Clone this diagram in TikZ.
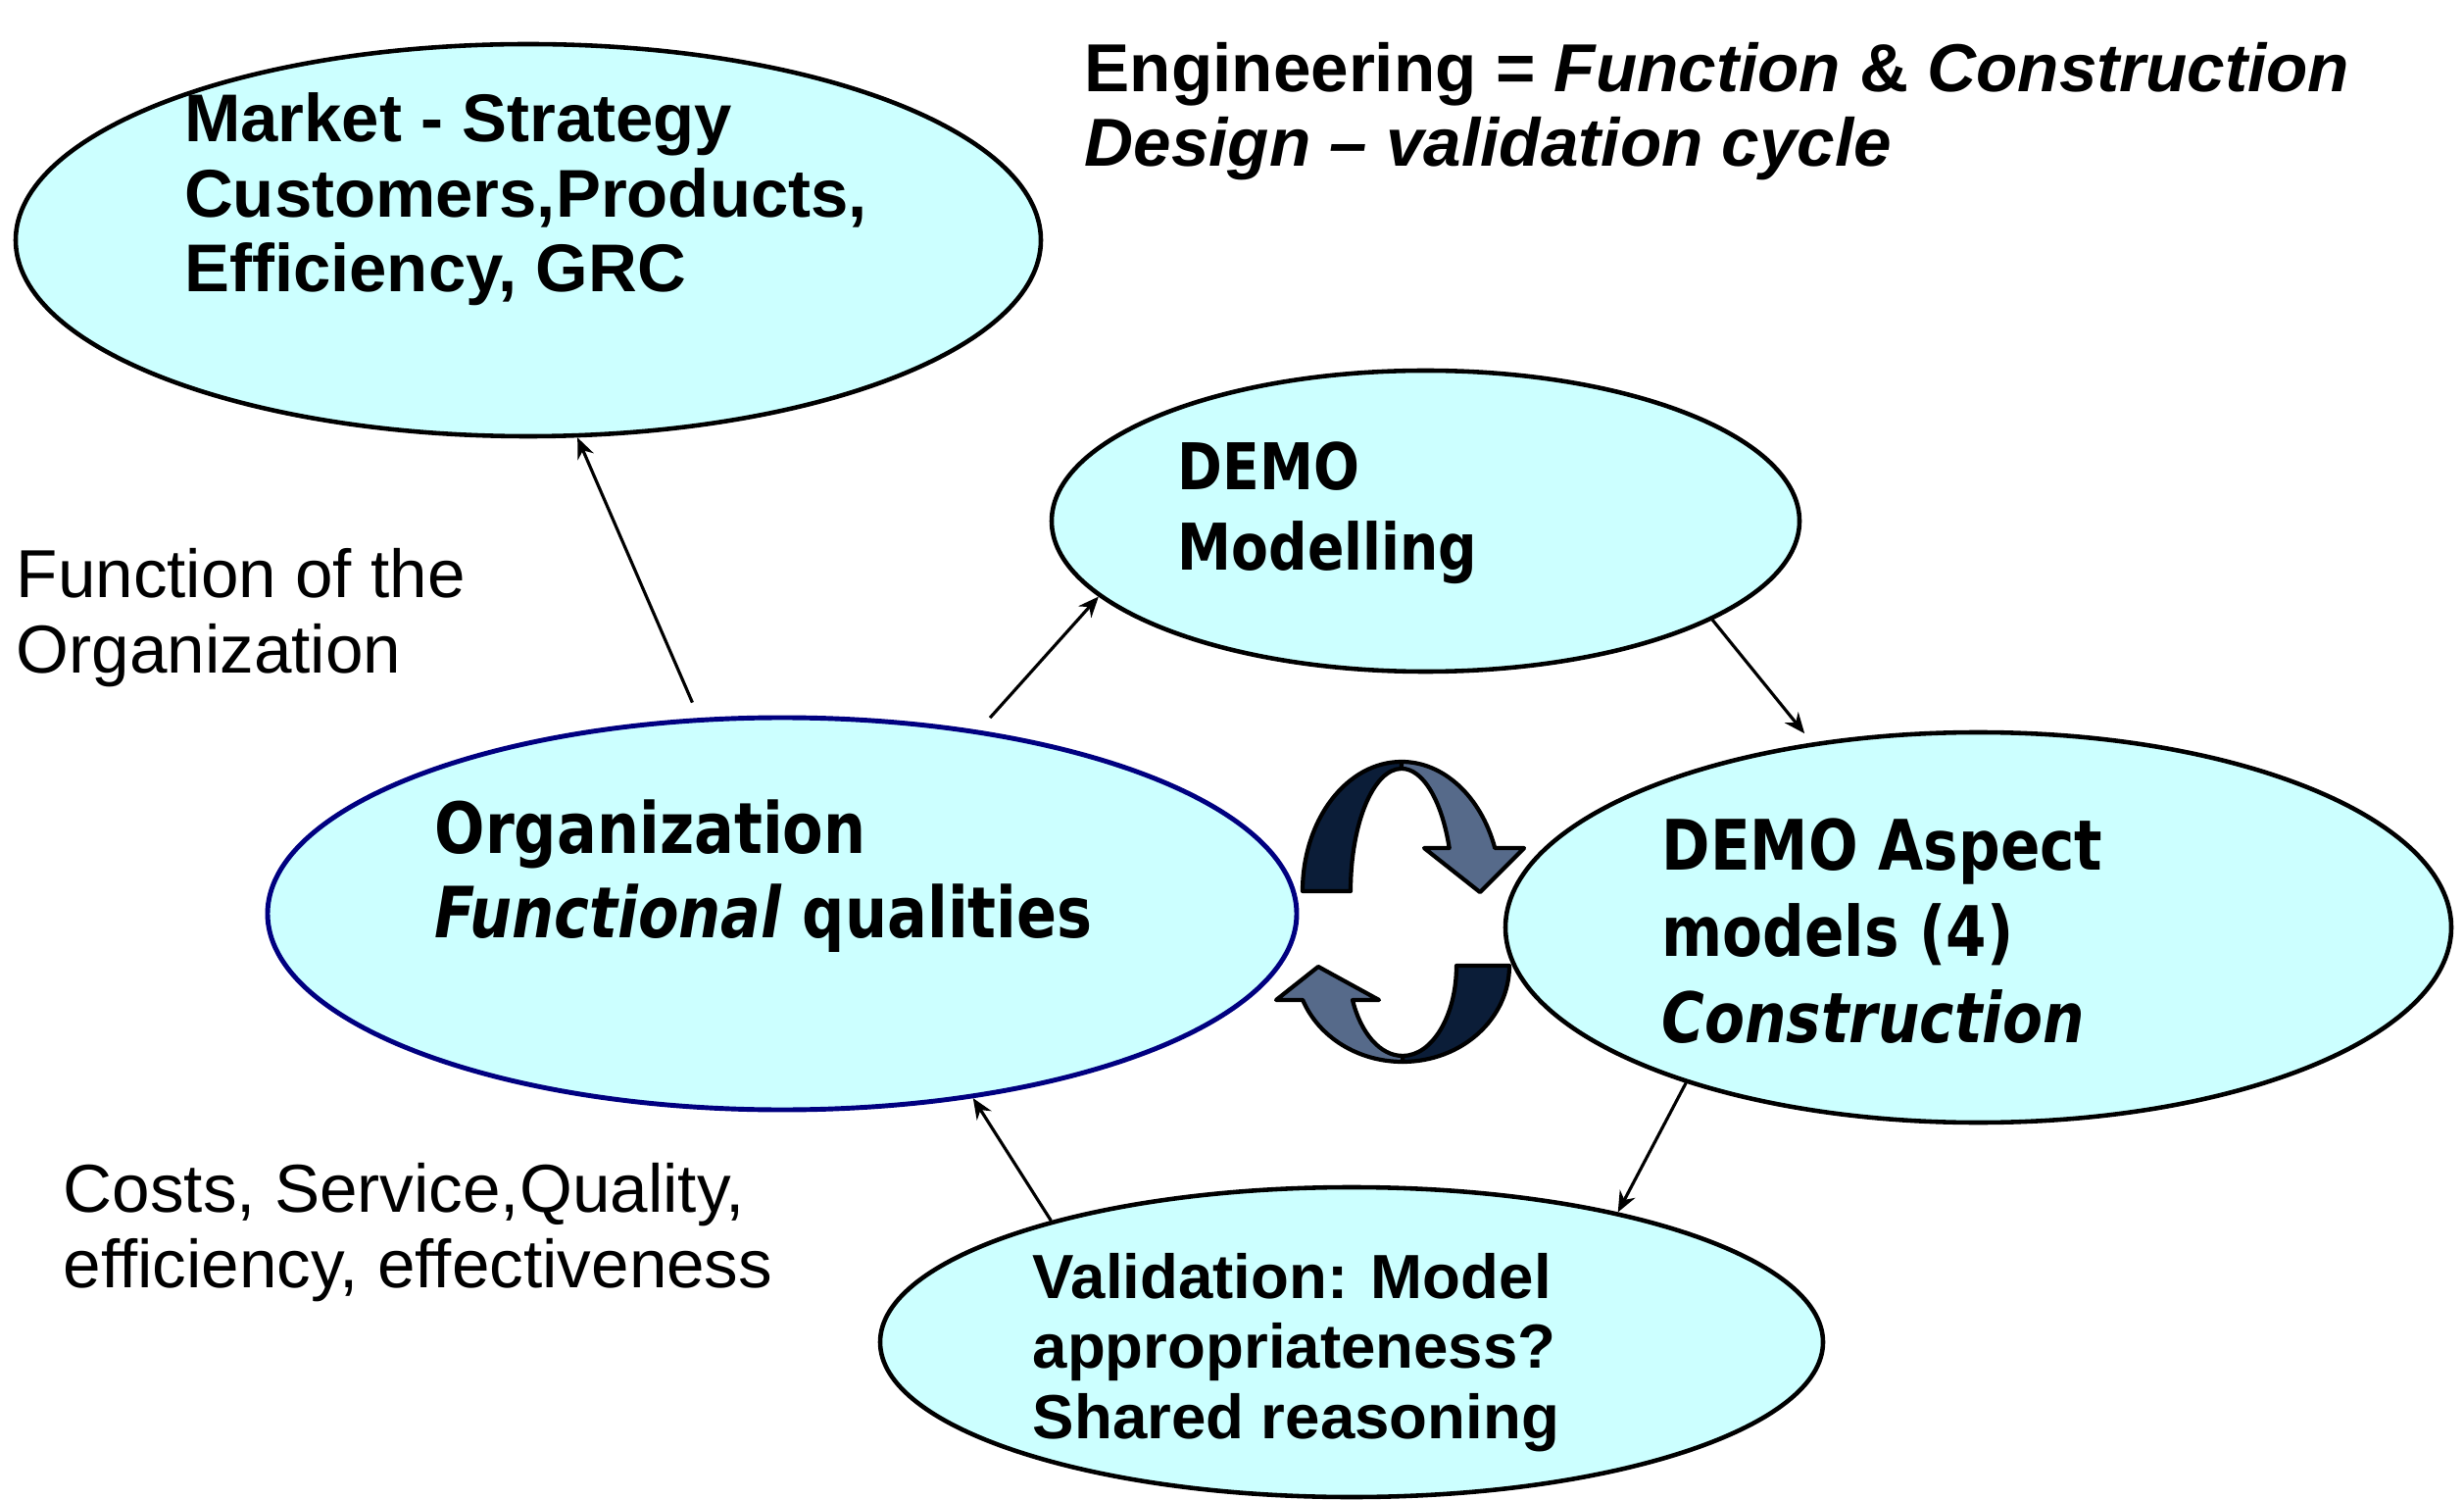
\documentclass[tikz,border=0pt]{standalone}
\usepackage{fontspec}
\setmainfont{Liberation Sans}
\newfontfamily\demofont[FakeStretch=0.84]{DejaVu Sans}
\usetikzlibrary{shapes.geometric,arrows.meta}
\definecolor{cyan3}{HTML}{CCFFFF}
\definecolor{navy2}{HTML}{000080}
\definecolor{slate1}{HTML}{0B1D38}
\definecolor{slate2}{HTML}{566A8A}

\begin{document}
\begin{tikzpicture}[
  bubble/.style={ellipse, draw, line width=1.3pt, fill=cyan3, inner sep=0pt},
  txt/.style={anchor=base west, align=left, inner sep=0pt},
  conn/.style={-{Stealth[length=6pt,width=5pt]}, line width=0.9pt},
  band/.style={draw=black, line width=1.2pt, line join=round}]
\useasboundingbox (0,0) rectangle (25.14,15.29);

\node[bubble, minimum width=10.46cm, minimum height=4cm] (market) at (5.39,12.84) {};
\node[bubble, minimum width=7.63cm, minimum height=3.07cm] (model) at (14.545,9.975) {};
\node[bubble, draw=navy2, line width=1.4pt, minimum width=10.5cm, minimum height=4cm] (org) at (7.98,5.97) {};
\node[bubble, minimum width=9.65cm, minimum height=3.98cm] (aspect) at (20.185,5.83) {};
\node[bubble, minimum width=9.62cm, minimum height=3.16cm] (valid) at (13.79,1.60) {};

\node[txt, font={\fontsize{19.6}{21.9}\selectfont\bfseries}] (marketText) at (1.875,12.31)
  {Market - Strategy\\Customers,Products,\\Efficiency, GRC};
\node[txt, font={\fontsize{19.7}{21.9}\selectfont\bfseries}] (engText) at (11.06,13.59)
  {Engineering = \textit{Function} \& \textit{Construction}\\\textit{Design – validation cycle}};
\node[txt, font={\fontsize{19.7}{21.9}\selectfont}] (funcText) at (0.16,8.43)
  {Function of the\\Organization};
\node[txt, font={\fontsize{19.7}{21.9}\selectfont}] (costText) at (0.64,2.16)
  {Costs, Service,Quality,\\efficiency, effectiveness};
\node[txt, font={\demofont\bfseries\fontsize{18.7}{23.6}\selectfont}] (modelText) at (12.01,9.47)
  {DEMO\\Modelling};
\node[txt, font={\demofont\bfseries\fontsize{20.5}{24.5}\selectfont}] (orgText) at (4.43,5.72)
  {Organization\\\textit{Functional} qualities};
\node[txt, font={\demofont\bfseries\fontsize{20.2}{25}\selectfont}] (aspectText) at (16.95,4.66)
  {DEMO Aspect\\models (4)\\\textit{Construction}};
\node[txt, font={\fontsize{18.1}{20.3}\selectfont\bfseries}] (validText) at (10.53,0.62)
  {Validation: Model\\appropriateness?\\Shared reasoning};

\draw[conn, shorten <=0.17cm] (org.113) -- (market.-76);
\draw[conn, shorten <=0.17cm] (org.43) -- (model.193);
\draw[conn, shorten >=0.12cm] (model.-19) -- (aspect.132);
\draw[conn] (aspect.208) -- (valid.26);
\draw[conn] (valid.158) -- (org.-44);

\filldraw[band, fill=slate1] (13.29,6.20) arc[start angle=180, end angle=90, x radius=1.01, y radius=1.32]
  -- (14.30,7.45) arc[start angle=90, end angle=180, x radius=0.52, y radius=1.25] -- cycle;
\filldraw[band, fill=slate2] (14.30,7.52) arc[start angle=90, end angle=19.47, x radius=1.01, y radius=1.32]
  -- (15.55,6.64) -- (15.10,6.19) -- (14.53,6.64) -- (14.787,6.64)
  arc[start angle=20.6, end angle=90, x radius=0.52, y radius=1.25] -- cycle;
\filldraw[band, fill=slate1] (15.40,5.44) arc[start angle=0, end angle=-90, x radius=1.09, y radius=0.98]
  -- (14.31,4.52) arc[start angle=-90, end angle=0, x radius=0.55, y radius=0.92] -- cycle;
\filldraw[band, fill=slate2] (14.31,4.46) arc[start angle=270, end angle=200.9, x radius=1.09, y radius=0.98]
  -- (13.02,5.09) -- (13.45,5.43) -- (14.07,5.09) -- (13.80,5.09)
  arc[start angle=202.4, end angle=270, x radius=0.55, y radius=0.92] -- cycle;
\end{tikzpicture}
\end{document}
